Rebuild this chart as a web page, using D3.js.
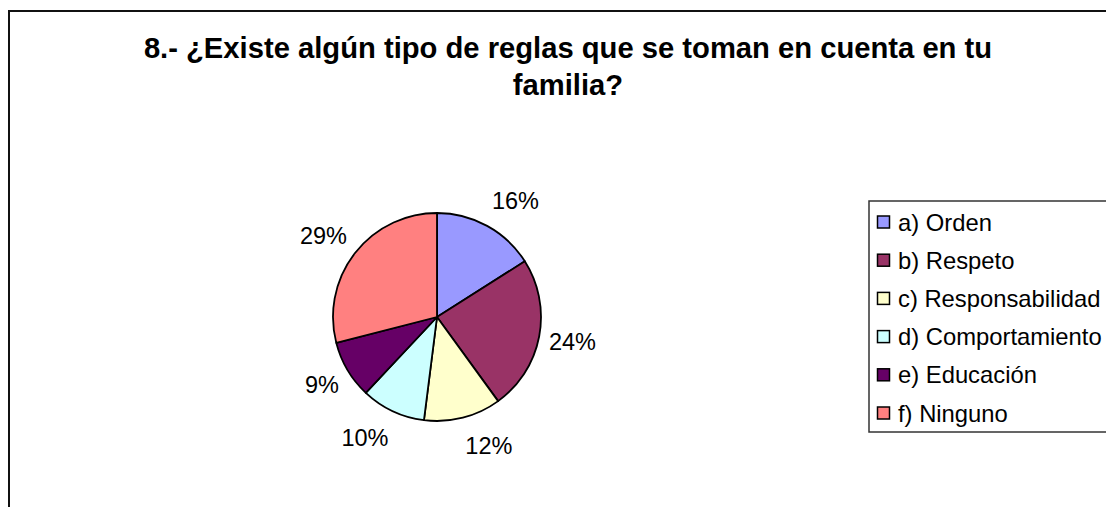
<!DOCTYPE html>
<html>
<head>
<meta charset="utf-8">
<script src="https://cdn.jsdelivr.net/npm/d3@7"></script>
<style>
  body { margin: 0; background: #fff; }
  svg { display: block; font-family: Arial, "Liberation Sans", sans-serif; }
</style>
</head>
<body>
<div class="container"></div>
<script>
var titleLines = ['8.- ¿Existe algún tipo de reglas que se toman en cuenta en tu', 'familia?'];
var categories = ['a) Orden', 'b) Respeto', 'c) Responsabilidad', 'd) Comportamiento', 'e) Educación', 'f) Ninguno'];
var values = [16, 24, 12, 10, 9, 29];
var colors = ['#9999ff', '#993366', '#ffffcc', '#ccffff', '#660066', '#ff8080'];

var width = 1106, height = 507;

var svg = d3.select('.container').append('svg')
  .attr('width', width)
  .attr('height', height);

// chart frame, runs off the right and bottom edges
svg.append('rect')
  .attr('x', 9).attr('y', 11)
  .attr('width', 1200).attr('height', 600)
  .attr('fill', 'none')
  .attr('stroke', '#111')
  .attr('stroke-width', 2);

svg.append('text')
  .attr('text-anchor', 'middle')
  .attr('font-weight', 'bold')
  .attr('font-size', 29.2)
  .selectAll('tspan')
  .data(titleLines)
  .enter()
  .append('tspan')
  .attr('x', 568)
  .attr('y', function (d, i) { return 58 + i * 37; })
  .text(function (d) { return d; });

// pie
var cx = 437, cy = 317, r = 104;
var total = d3.sum(values);
var pie = d3.pie().sort(null).value(function (d) { return d; });
var arc = d3.arc().innerRadius(0).outerRadius(r);

// labels sit outside the edge, anchored on the side they fall
var labelRx = 114, labelRy = 133;
function midAngle(d) { return (d.startAngle + d.endAngle) / 2; }

var g = svg.append('g').attr('transform', 'translate(' + cx + ',' + cy + ')');

g.selectAll('path')
  .data(pie(values))
  .enter()
  .append('path')
  .attr('d', arc)
  .attr('fill', function (d, i) { return colors[i]; })
  .attr('stroke', '#000')
  .attr('stroke-width', 1.8)
  .attr('stroke-linejoin', 'round');

g.selectAll('text.pct')
  .data(pie(values))
  .enter()
  .append('text')
  .attr('class', 'pct')
  .attr('x', function (d) { return labelRx * Math.sin(midAngle(d)); })
  .attr('y', function (d) { return -labelRy * Math.cos(midAngle(d)); })
  .attr('dy', '0.36em')
  .attr('text-anchor', function (d) { return Math.sin(midAngle(d)) >= 0 ? 'start' : 'end'; })
  .attr('font-size', 23.5)
  .text(function (d) { return Math.round(d.value / total * 100) + '%'; });

// legend
var legend = svg.append('g').attr('transform', 'translate(869,201)');
legend.append('rect')
  .attr('width', 300).attr('height', 231)
  .attr('fill', '#fff')
  .attr('stroke', '#333')
  .attr('stroke-width', 1.5);

var rowY = d3.scalePoint().domain(categories).range([21, 212]);

var items = legend.selectAll('g.item')
  .data(categories)
  .enter()
  .append('g')
  .attr('class', 'item')
  .attr('transform', function (d) { return 'translate(0,' + rowY(d) + ')'; });

items.append('rect')
  .attr('x', 8.5).attr('y', -6)
  .attr('width', 12).attr('height', 12)
  .attr('fill', function (d, i) { return colors[i]; })
  .attr('stroke', '#000')
  .attr('stroke-width', 1.5);

items.append('text')
  .attr('x', 29)
  .attr('dy', '0.36em')
  .attr('font-size', 23.8)
  .text(function (d) { return d; });
</script>
</body>
</html>
